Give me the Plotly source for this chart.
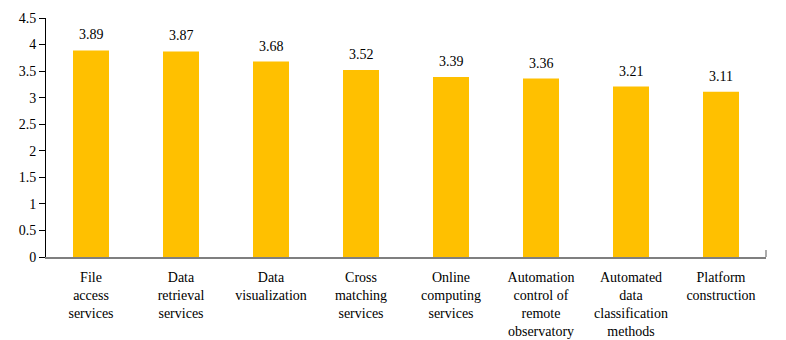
import plotly.graph_objects as go

categories = ["File<br>access<br>services", "Data<br>retrieval<br>services", "Data<br>visualization",
              "Cross<br>matching<br>services", "Online<br>computing<br>services",
              "Automation<br>control of<br>remote<br>observatory",
              "Automated<br>data<br>classification<br>methods", "Platform<br>construction"]
values = [3.89, 3.87, 3.68, 3.52, 3.39, 3.36, 3.21, 3.11]
y_ticks = [0, 0.5, 1, 1.5, 2, 2.5, 3, 3.5, 4, 4.5]
y_tick_labels = ["0", "0.5", "1", "1.5", "2", "2.5", "3", "3.5", "4", "4.5"]

font = "'Liberation Serif', 'DejaVu Serif', serif"

fig = go.Figure()
fig.add_trace(go.Bar(x=categories, y=values, marker=dict(color="#FFC000", line=dict(width=0)),
                     width=0.4))

for c, v in zip(categories, values):
    fig.add_annotation(x=c, y=v, text=f"{v:.2f}", showarrow=False, yanchor="bottom",
                       yshift=6, font=dict(family=font, size=14, color="black"))

fig.add_shape(type="line", xref="paper", yref="y", x0=1, x1=1, y0=0, y1=0.13,
              line=dict(color="#7f7f7f", width=1.3))

# page body has an 8px margin, so figure is shrunk to fit the 786x340 window
fig.update_layout(
    width=778, height=332,
    margin=dict(l=38, r=20, t=10, b=83),
    plot_bgcolor="white", paper_bgcolor="white",
    showlegend=False,
    font=dict(family=font, size=14, color="black"),
    bargap=0.6,
)
fig.update_xaxes(showline=True, linecolor="#7f7f7f", linewidth=1.5, showgrid=False,
                 ticks="", tickangle=0, automargin=False, ticklabelstandoff=6,
                 tickfont=dict(family=font, size=14, color="black"),
                 range=[-0.5, 7.5])
fig.update_yaxes(range=[0, 4.5], tickvals=y_ticks, ticktext=y_tick_labels, automargin=False,
                 showline=True, linecolor="black", linewidth=1, showgrid=False, zeroline=False,
                 ticks="outside", ticklen=6, tickcolor="black", tickwidth=1,
                 tickfont=dict(family=font, size=14, color="black"))

fig.write_html("out.html")
